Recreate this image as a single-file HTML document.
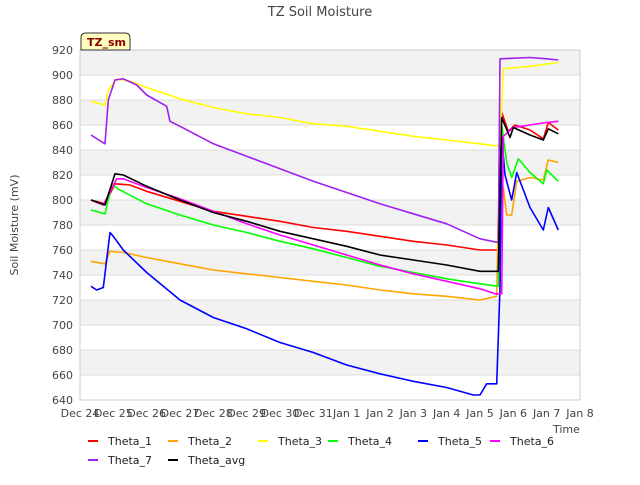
<!DOCTYPE html>
<html><head><meta charset="utf-8"><style>
body{margin:0;background:#fff;font-family:"Liberation Sans","DejaVu Sans",sans-serif;}
svg text{font-family:"DejaVu Sans","Liberation Sans",sans-serif;}
</style></head><body>
<svg id="c" width="640" height="480" viewBox="0 0 640 480">
<text x="320" y="16" text-anchor="middle" font-size="13" fill="#444">TZ Soil Moisture</text>
<g id="grid"></g>
<g id="series"></g>
<g id="axes"></g>
<g>
<path d="M81,50 L81,38 Q81,33 86,33 L125,33 Q130,33 130,38 L130,50 Z" fill="#ffffc0" stroke="#333"/>
<text x="87" y="46" font-size="11" font-weight="bold" fill="#8b0000">TZ_sm</text>
</g>
<text transform="translate(18,225) rotate(-90)" text-anchor="middle" font-size="11" fill="#444">Soil Moisture (mV)</text>
<text x="553" y="433" font-size="11" fill="#444">Time</text>
<g id="legend"></g>
</svg>
<script>
const yTicks=[640,660,680,700,720,740,760,780,800,820,840,860,880,900,920];
const xTickLabels=["Dec 24","Dec 25","Dec 26","Dec 27","Dec 28","Dec 29","Dec 30","Dec 31","Jan 1","Jan 2","Jan 3","Jan 4","Jan 5","Jan 6","Jan 7","Jan 8"];
const seriesNames=["Theta_1","Theta_2","Theta_3","Theta_4","Theta_5","Theta_6","Theta_7","Theta_avg"];
const seriesColors=["#ff0000","#ffa500","#ffff00","#00ff00","#0000ff","#ff00ff","#a020f0","#000000"];
const theta1=[[0.33,800],[0.75,797],[1.05,813],[1.5,812],[2,807],[3,799],[4,791],[5,787],[6,783],[7,778],[8,775],[9,771],[10,767],[11,764],[12,760],[12.55,760],[12.65,870],[12.85,855],[13.05,860],[13.5,856],[13.9,849],[14.05,862],[14.35,856]];
const theta2=[[0.33,751],[0.75,749],[0.9,759],[1.3,758],[2,754],[3,749],[4,744],[5,741],[6,738],[7,735],[8,732],[9,728],[10,725],[11,723],[12,720],[12.5,723],[12.55,785],[12.7,810],[12.8,788],[12.95,788],[13.1,815],[13.5,818],[13.9,816],[14.05,832],[14.35,830]];
const theta3=[[0.33,879],[0.75,876],[0.85,888],[1.1,897],[1.5,895],[2,890],[3,881],[4,874],[5,869],[6,866],[7,861],[8,859],[9,855],[10,851],[11,848],[12,845],[12.6,843],[12.7,905],[13.5,907],[14.35,910]];
const theta4=[[0.33,792],[0.75,789],[0.95,812],[1.2,808],[2,797],[3,788],[4,780],[5,774],[6,767],[7,761],[8,754],[9,747],[10,742],[11,737],[12,733],[12.55,731],[12.65,860],[12.8,830],[12.95,818],[13.15,833],[13.5,822],[13.9,813],[14.0,824],[14.35,815]];
const theta5=[[0.33,731],[0.5,728],[0.7,730],[0.9,774],[1.0,771],[1.3,760],[2,742],[3,720],[4,706],[5,697],[6,686],[7,678],[8,668],[9,661],[10,655],[11,650],[11.8,644],[12.0,644],[12.2,653],[12.5,653],[12.6,730],[12.65,850],[12.75,820],[12.95,800],[13.1,822],[13.5,794],[13.9,776],[14.05,794],[14.35,776]];
const theta6=[[0.33,800],[0.7,796],[1.1,817],[1.3,817],[2,810],[3,801],[4,791],[5,781],[6,772],[7,764],[8,756],[9,748],[10,741],[11,735],[12,729],[12.45,725],[12.65,725],[12.7,851],[13.0,858],[13.5,860],[14,862],[14.35,863]];
const theta7=[[0.33,852],[0.75,845],[0.85,880],[1.05,896],[1.3,897],[1.7,892],[2,884],[2.6,875],[2.7,863],[3,859],[4,845],[5,835],[6,825],[7,815],[8,806],[9,797],[10,789],[11,781],[12,769],[12.55,766],[12.6,913],[13.5,914],[14,913],[14.35,912]];
const thetaAvg=[[0.33,800],[0.75,796],[1.05,821],[1.3,820],[2,811],[3,800],[4,790],[5,783],[6,775],[7,769],[8,763],[9,756],[10,752],[11,748],[12,743],[12.55,743],[12.65,866],[12.9,850],[13.0,858],[13.5,852],[13.9,848],[14.05,857],[14.35,853]];
const allSeries=[theta1,theta2,theta3,theta4,theta5,theta6,theta7,thetaAvg];

const NS="http://www.w3.org/2000/svg";
const L=80,R=580,T=50,B=400,ymin=640,ymax=920,xmax=15;
const xs=d=>L+d*(R-L)/xmax;
const ys=v=>B-(v-ymin)*(B-T)/(ymax-ymin);
function mk(tag,attrs,parent){const e=document.createElementNS(NS,tag);for(const k in attrs)e.setAttribute(k,attrs[k]);parent.appendChild(e);return e;}
const grid=document.getElementById('grid'),axes=document.getElementById('axes'),ser=document.getElementById('series'),leg=document.getElementById('legend');
for(let i=0;i<yTicks.length-1;i++){
  const r=mk('rect',{x:L,y:ys(yTicks[i+1]),width:R-L,height:ys(yTicks[i])-ys(yTicks[i+1]),fill:(yTicks.length-2-i)%2===0?'#f2f2f2':'#ffffff'},grid);
  
  
}
yTicks.forEach(v=>{
  const l=mk('line',{x1:L,x2:R,y1:ys(v),y2:ys(v),stroke:'#dcdcdc','stroke-width':1},grid);
  
  
  const t=mk('text',{x:L-7,y:ys(v)+4,'text-anchor':'end','font-size':11,fill:'#444'},axes);
  t.textContent=v;
  
  
});
const frame=mk('rect',{x:L,y:T,width:R-L,height:B-T,fill:'none',stroke:'#ccc'},axes);


xTickLabels.forEach((s,i)=>{
  const t=mk('text',{x:xs(i),y:B+17,'text-anchor':'middle','font-size':11,fill:'#444'},axes);
  t.textContent=s;
  
  
});
allSeries.forEach((s,i)=>{
  const p=mk('polyline',{points:s.map(q=>xs(q[0]).toFixed(1)+','+ys(q[1]).toFixed(1)).join(' '),fill:'none',stroke:seriesColors[i],'stroke-width':1.6,'stroke-linejoin':'round'},ser);
  
  
});
const legPos=[[88,441],[168,441],[258,441],[328,441],[418,441],[490,441],[88,460],[168,460]];
seriesNames.forEach((n,i)=>{
  const g=mk('g',{},leg);
  
  
  const [x,y]=legPos[i];
  mk('line',{x1:x,x2:x+10,y1:y,y2:y,stroke:seriesColors[i],'stroke-width':2},g);
  const t=mk('text',{x:x+20,y:y+4,'font-size':11,fill:'#222'},g);
  t.textContent=n;
});
</script>
</body></html>
